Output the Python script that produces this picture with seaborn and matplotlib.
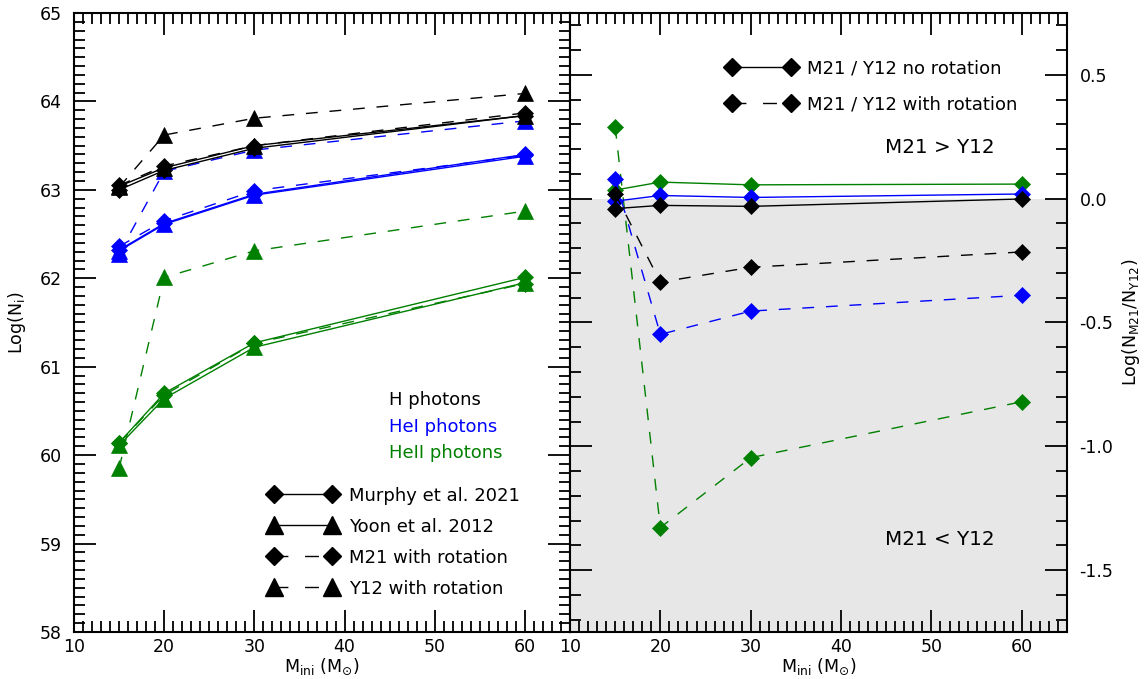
import numpy as np
import pandas as pd
import matplotlib
matplotlib.use("Agg")
import matplotlib.pyplot as plt
from matplotlib.lines import Line2D
from matplotlib.ticker import MultipleLocator, FormatStrFormatter
import seaborn as sns

# ---------------- data ----------------
mass = [15, 20, 30, 60]

# Left panel: Log(N_i)
h_m21 = [63.00, 63.22, 63.47, 63.84]
h_y12 = [63.04, 63.25, 63.50, 63.84]
h_m21_rot = [63.05, 63.27, 63.50, 63.87]
h_y12_rot = [63.03, 63.62, 63.81, 64.09]

hei_m21 = [62.32, 62.62, 62.95, 63.40]
hei_y12 = [62.31, 62.61, 62.94, 63.38]
hei_m21_rot = [62.36, 62.65, 62.99, 63.39]
hei_y12_rot = [62.28, 63.21, 63.45, 63.78]

heii_m21 = [60.14, 60.70, 61.27, 62.01]
heii_y12 = [60.11, 60.64, 61.22, 61.95]
heii_m21_rot = [60.14, 60.68, 61.265, 61.94]
heii_y12_rot = [59.85, 62.01, 62.31, 62.76]

# Right panel: Log(N_M21 / N_Y12)
h_ratio = [-0.04, -0.027, -0.031, -0.001]
h_ratio_rot = [0.02, -0.337, -0.277, -0.215]
hei_ratio = [-0.01, 0.013, 0.005, 0.019]
hei_ratio_rot = [0.08, -0.548, -0.454, -0.39]
heii_ratio = [0.035, 0.067, 0.056, 0.059]
heii_ratio_rot = [0.29, -1.328, -1.046, -0.82]

colors = {"H": "#000000", "HeI": "#0000ff", "HeII": "#008000"}
photon_labels = ["H photons", "HeI photons", "HeII photons"]
legend_left = ["Murphy et al. 2021", "Yoon et al. 2012",
               "M21 with rotation", "Y12 with rotation"]
legend_right = ["M21 / Y12 no rotation", "M21 / Y12 with rotation"]

# ---------------- style ----------------
sns.set_style("ticks")
plt.rcParams["font.family"] = ["DejaVu Sans"]
plt.rcParams["axes.unicode_minus"] = False
plt.rcParams["lines.scale_dashes"] = True
for k in ["text.color", "axes.labelcolor", "xtick.color", "ytick.color",
          "axes.edgecolor"]:
    plt.rcParams[k] = "#000000"

LW = 1.0
DASH = (0, (8.5, 8.5))
MS_D = 7.8
MS_T = 11.5

fig = plt.figure(figsize=(11.46, 6.79), dpi=100)
W, H = 1146, 679
ax1 = fig.add_axes([74 / W, 47 / H, 496 / W, 619 / H])
ax2 = fig.add_axes([570 / W, 47 / H, 497 / W, 619 / H])


def draw(ax, y, color, marker, dashed, z=3):
    ms = MS_D if marker == "D" else MS_T
    df = pd.DataFrame({"x": mass, "y": y})
    sns.lineplot(data=df, x="x", y="y", ax=ax, color=color, marker=marker,
                 markersize=ms, markeredgecolor=color, markeredgewidth=0.5,
                 linewidth=LW, linestyle=DASH if dashed else "-",
                 estimator=None, sort=False, legend=False, zorder=z)


# Left panel
groups = [
    ("H", h_m21, h_y12, h_m21_rot, h_y12_rot),
    ("HeI", hei_m21, hei_y12, hei_m21_rot, hei_y12_rot),
    ("HeII", heii_m21, heii_y12, heii_m21_rot, heii_y12_rot),
]
for key, m21, y12, m21r, y12r in groups[::-1]:
    c = colors[key]
    draw(ax1, y12r, c, "^", True)
    draw(ax1, m21r, c, "D", True)
    draw(ax1, y12, c, "^", False)
    draw(ax1, m21, c, "D", False)

# Right panel
ax2.axhspan(-1.75, 0.0, color="#e7e7e7", zorder=0, lw=0)
rgroups = [
    ("H", h_ratio, h_ratio_rot),
    ("HeI", hei_ratio, hei_ratio_rot),
    ("HeII", heii_ratio, heii_ratio_rot),
]
for key, r, rr in rgroups[::-1]:
    c = colors[key]
    draw(ax2, rr, c, "D", True)
    draw(ax2, r, c, "D", False)

# ---------------- axes ----------------
for ax in (ax1, ax2):
    ax.set_xlim(10, 65)
    ax.xaxis.set_major_locator(MultipleLocator(10))
    ax.xaxis.set_minor_locator(MultipleLocator(1))
    ax.tick_params(which="both", direction="in", top=True, bottom=True,
                   left=True, right=True, width=1.3, colors="#000000",
                   labelsize=12.5)
    ax.tick_params(which="major", length=16)
    ax.tick_params(which="minor", length=8)
    ax.tick_params(axis="x", pad=4)
    for s in ax.spines.values():
        s.set_linewidth(1.5)
        s.set_color("#000000")
    ax.set_xlabel(r"M$_{\rm ini}$ (M$_{\odot}$)", fontsize=12.5, labelpad=0.5)
    ax.set_facecolor("white")

ax1.set_ylim(58, 65)
ax1.yaxis.set_major_locator(MultipleLocator(1))
ax1.yaxis.set_minor_locator(MultipleLocator(0.1))
ax1.tick_params(axis="y", pad=9)
ax1.set_ylabel(r"Log(N$_{\rm i}$)", fontsize=12.5, labelpad=8)

ax2.set_ylim(-1.75, 0.75)
ax2.yaxis.set_major_locator(MultipleLocator(0.5))
ax2.yaxis.set_minor_locator(MultipleLocator(0.1))
ax2.yaxis.set_major_formatter(FormatStrFormatter("%.1f"))
ax2.tick_params(axis="y", labelleft=False, labelright=True, pad=9)
ax2.yaxis.set_label_position("right")
ax2.set_ylabel(r"Log(N$_{\rm M21}$/N$_{\rm Y12}$)", fontsize=12.5,
               labelpad=5)

# ---------------- texts & legends ----------------
for lbl, key, yy in zip(photon_labels, ["H", "HeI", "HeII"],
                        [0.375, 0.331, 0.289]):
    ax1.text(0.635, yy, lbl, color=colors[key], fontsize=13,
             transform=ax1.transAxes, ha="left", va="center")

hl = [
    Line2D([], [], color="k", marker="D", ms=MS_D + 1, lw=LW, ls="-"),
    Line2D([], [], color="k", marker="^", ms=MS_T + 1, lw=LW, ls="-"),
    Line2D([], [], color="k", marker="D", ms=MS_D + 1, lw=LW, ls=(0, (10, 12))),
    Line2D([], [], color="k", marker="^", ms=MS_T + 1, lw=LW, ls=(0, (10, 12))),
]
leg1 = ax1.legend(hl, legend_left, loc="upper left",
                  bbox_to_anchor=(0.392, 0.235), borderpad=0, borderaxespad=0,
                  frameon=False, numpoints=2, handlelength=3.82,
                  handletextpad=0.64, labelspacing=0.72, fontsize=13)

hr = [
    Line2D([], [], color="k", marker="D", ms=MS_D + 1, lw=LW, ls="-"),
    Line2D([], [], color="k", marker="D", ms=MS_D + 1, lw=LW, ls=(0, (10, 12))),
]
leg2 = ax2.legend(hr, legend_right, loc="upper left",
                  bbox_to_anchor=(0.315, 0.925), borderpad=0, borderaxespad=0,
                  frameon=False, numpoints=2, handlelength=3.88,
                  handletextpad=0.59, labelspacing=1.0, fontsize=13)

ax2.text(0.634, 0.782, "M21 > Y12", fontsize=14.3, transform=ax2.transAxes,
         ha="left", va="center")
ax2.text(0.634, 0.149, "M21 < Y12", fontsize=14.3, transform=ax2.transAxes,
         ha="left", va="center")

fig.savefig("out.png", dpi=100)
